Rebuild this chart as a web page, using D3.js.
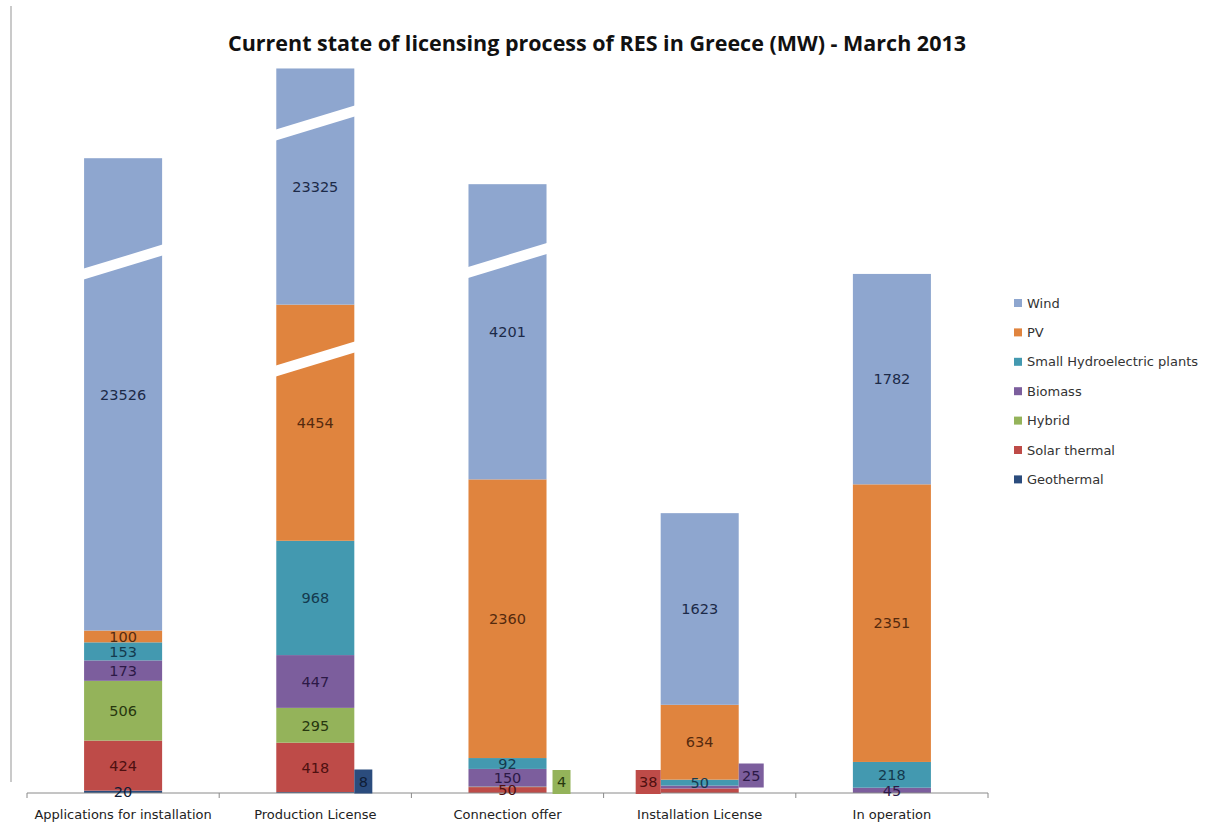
<!DOCTYPE html>
<html>
<head>
<meta charset="utf-8">
<script src="https://cdn.jsdelivr.net/npm/d3@7"></script>
<style>
  body { margin: 0; background: #fff; }
  svg { display: block; }
</style>
</head>
<body>
<svg width="1212" height="825"></svg>
<script>
// licensing stages (x axis)
const categories = ["Applications for installation", "Production License", "Connection offer", "Installation License", "In operation"];

// series values in MW, one entry per stage
const wind         = [23526, 23325, 4201, 1623, 1782];
const pv           = [100, 4454, 2360, 634, 2351];
const hydro        = [153, 968, 92, 50, 218];
const biomass      = [173, 447, 150, 25, 45];
const hybrid       = [506, 295, 4, 0, 0];
const solarThermal = [424, 418, 50, 38, 0];
const geothermal   = [20, 8, 0, 0, 0];

// MW actually drawn where the bar is cut by an axis break (null = not cut)
const windDrawn = [4000, 2000, 2500, null, null];
const pvDrawn   = [null, 2000, null, null, null];

// stacking order, bottom to top
const series = [
  { name: "Geothermal", values: geothermal, color: "#2b4c7d", text: "#0f1d36" },
  { name: "Solar thermal", values: solarThermal, color: "#be4b48", text: "#4e1010" },
  { name: "Hybrid", values: hybrid, color: "#94b35a", text: "#27370f" },
  { name: "Biomass", values: biomass, color: "#7c5e9d", text: "#2c1946" },
  { name: "Small Hydroelectric plants", values: hydro, color: "#4399b0", text: "#143a4e" },
  { name: "PV", values: pv, drawn: pvDrawn, color: "#e0843e", text: "#552a0e" },
  { name: "Wind", values: wind, drawn: windDrawn, color: "#8ea6cf", text: "#1c2a48" }
];

// where the white break bands sit (series, stage, MW on the drawn scale)
const breaks = [
  { series: "Wind", cat: 0, at: 4496 },
  { series: "Wind", cat: 1, at: 5674 },
  { series: "PV", cat: 1, at: 3675 },
  { series: "Wind", cat: 2, at: 4510 }
];

// labels too small for their segment, shown in a coloured box next to the bar
const callouts = [
  { series: "Geothermal", cat: 1, side: "right", gap: 0, dy: 11.5 },
  { series: "Hybrid", cat: 2, side: "right", gap: 6, dy: 11 },
  { series: "Solar thermal", cat: 3, side: "left", gap: 0, dy: 11 },
  { series: "Biomass", cat: 3, side: "right", gap: 0, dy: 17.5 }
];

const svg = d3.select("svg");
const font = "'DejaVu Sans', Verdana, sans-serif";

const x = d3.scaleBand().domain(categories).range([27, 988]).paddingInner(0.594).paddingOuter(0.297);
const y = d3.scaleLinear().domain([0, 6140]).range([793, 68]);

// build stacked segments
const segs = [];
categories.forEach((c, i) => {
  let base = 0;
  series.forEach(s => {
    const v = s.values[i];
    if (!v) return;
    const h = (s.drawn && s.drawn[i] != null) ? s.drawn[i] : v;
    segs.push({ cat: c, i, s, v, y0: base, y1: base + h });
    base += h;
  });
});

// left border line
svg.append("line")
  .attr("x1", 11).attr("x2", 11).attr("y1", 6).attr("y2", 782)
  .attr("stroke", "#b8b8b8").attr("stroke-width", 1.5);

// title
svg.append("text")
  .attr("x", 597).attr("y", 51)
  .attr("text-anchor", "middle")
  .attr("font-family", "'Open Sans', 'Noto Sans', sans-serif")
  .attr("font-weight", "bold")
  .attr("font-size", 20.5)
  .attr("textLength", 738)
  .attr("lengthAdjust", "spacingAndGlyphs")
  .attr("fill", "#111")
  .text("Current state of licensing process of RES in Greece (MW) - March 2013");

// bars
svg.append("g").selectAll("rect")
  .data(segs)
  .join("rect")
  .attr("x", d => x(d.cat))
  .attr("width", x.bandwidth())
  .attr("y", d => y(d.y1))
  .attr("height", d => y(d.y0) - y(d.y1))
  .attr("fill", d => d.s.color);

// axis break bands
const bw = x.bandwidth();
svg.append("g").selectAll("polygon")
  .data(breaks)
  .join("polygon")
  .attr("points", d => {
    const x0 = x(categories[d.cat]) - 2, x1 = x0 + bw + 4;
    const yc = y(d.at), rise = 12.5, t = 5.5;
    return [[x0, yc + rise - t], [x1, yc - rise - t], [x1, yc - rise + t], [x0, yc + rise + t]].join(" ");
  })
  .attr("fill", "#fff");

// x axis
const axis = svg.append("g")
  .attr("transform", "translate(0,793)")
  .call(d3.axisBottom(x).tickSize(0).tickPadding(17));
axis.select(".domain").attr("stroke", "#8a8a8a").attr("d", "M27,0H988");
axis.selectAll("text").attr("font-family", font).attr("font-size", 13).attr("fill", "#222");
axis.selectAll(".sep")
  .data(d3.range(categories.length + 1))
  .join("line")
  .attr("class", "sep")
  .attr("x1", i => 27 + i * x.step()).attr("x2", i => 27 + i * x.step())
  .attr("y1", 0).attr("y2", 5)
  .attr("stroke", "#8a8a8a");

// data labels inside segments
const isCallout = d => callouts.some(c => c.series === d.s.name && c.cat === d.i);
svg.append("g").selectAll("text")
  .data(segs.filter(d => !isCallout(d)))
  .join("text")
  .attr("x", d => x(d.cat) + bw / 2)
  .attr("y", d => (y(d.y0) + y(d.y1)) / 2)
  .attr("dy", "0.36em")
  .attr("text-anchor", "middle")
  .attr("font-family", font)
  .attr("font-size", 14.5)
  .attr("fill", d => d.s.text)
  .text(d => d.v);

// callout boxes
svg.append("g").selectAll("g")
  .data(callouts)
  .join("g")
  .each(function(c) {
    const s = series.find(t => t.name === c.series);
    const v = s.values[c.cat];
    const g = d3.select(this);
    const w = Math.max(String(v).length * 9 + 7, 18), h = 24;
    const bx = c.side === "right" ? x(categories[c.cat]) + bw + c.gap : x(categories[c.cat]) - c.gap - w;
    const cy = y(0) - c.dy;
    g.append("rect").attr("x", bx).attr("y", cy - h / 2).attr("width", w).attr("height", h).attr("fill", s.color);
    g.append("text")
      .attr("x", bx + w / 2).attr("y", cy).attr("dy", "0.36em")
      .attr("text-anchor", "middle")
      .attr("font-family", font).attr("font-size", 14.5)
      .attr("fill", s.text)
      .text(v);
  });

// legend
const legend = svg.append("g").selectAll("g")
  .data(series.slice().reverse())
  .join("g")
  .attr("transform", (d, i) => `translate(1014,${303 + i * 29.4})`);
legend.append("rect")
  .attr("x", 0).attr("y", -4).attr("width", 8).attr("height", 8)
  .attr("fill", d => d.color);
legend.append("text")
  .attr("x", 13).attr("y", 0).attr("dy", "0.36em")
  .attr("font-family", font).attr("font-size", 13)
  .attr("fill", "#333")
  .text(d => d.name);
</script>
</body>
</html>
